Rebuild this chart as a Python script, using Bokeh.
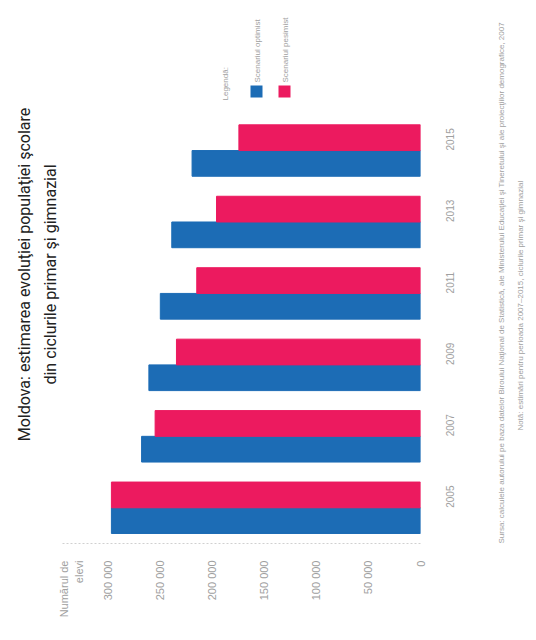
from math import pi
import numpy as np
from bokeh.plotting import figure
from bokeh.models import Range1d, FixedTicker, Title, Label, BoxAnnotation, LinearAxis
from bokeh.embed import file_html
from bokeh.resources import INLINE

# ---- data ----
years = ["2005", "2007", "2009", "2011", "2013", "2015"]
scenario_high = [297000, 268000, 261000, 250000, 239000, 219500]
scenario_low = [297000, 255000, 234500, 215000, 196000, 174500]
series_names = ["Scenariul optimist", "Scenariul pesimist"]
value_ticks = [0, 50000, 100000, 150000, 200000, 250000, 300000]
value_tick_labels = ["0", "50 000", "100 000", "150 000", "200 000", "250 000", "300 000"]
value_axis_title = "Numărul de\nelevi"
source_lines = [
    "Sursa: calculele autorului pe baza datelor Biroului Naţional de Statistică, ale Ministerului Educaţiei şi Tineretului şi ale proiecţiilor demografice, 2007",
    "Notă: estimări pentru perioada 2007–2015, ciclurile primar şi gimnazial",
]

BLUE = "#1c6cb5"
PINK = "#ec1a5f"
FAINT = "#a0a0a0"
TFONT = "Roboto"
SFONT = "Liberation Sans"

pos = np.arange(len(years))
x_max = 344000
y_lo, y_hi = -0.5, 7.03

p = figure(width=532, height=624,
           x_range=Range1d(x_max, 0), y_range=Range1d(y_lo, y_hi),
           output_backend="svg", toolbar_location=None,
           y_axis_location="right",
           min_border_left=62, min_border_right=103,
           min_border_top=5, min_border_bottom=81)
p.outline_line_color = None
p.grid.visible = False
p.background_fill_color = "white"
p.border_fill_color = "white"

p.hbar(y=pos - 0.18, left=0, right=scenario_high, height=0.36,
       fill_color=BLUE, line_color=BLUE)
p.hbar(y=pos + 0.18, left=0, right=scenario_low, height=0.36,
       fill_color=PINK, line_color=PINK)

# value axis (bottom); the axis title sits as an extra label at the far end
title_at = x_max * 0.975
xa = p.xaxis[0]
xa.ticker = FixedTicker(ticks=value_ticks + [title_at])
overrides = {t: l for t, l in zip(value_ticks, value_tick_labels)}
overrides[title_at] = value_axis_title
xa.major_label_overrides = overrides
xa.major_label_orientation = pi / 2
xa.major_label_text_font = SFONT
xa.major_label_text_font_size = "11px"
xa.major_label_text_color = FAINT
xa.major_tick_line_color = None
xa.major_tick_out = 0
xa.minor_tick_line_color = None
xa.major_label_standoff = 17
xa.axis_line_color = "#d0d0d0"
xa.axis_line_dash = "2 2"

# category axis (right)
ya = p.yaxis[0]
ya.ticker = FixedTicker(ticks=list(pos))
ya.major_label_overrides = {int(i): y for i, y in zip(pos, years)}
ya.major_label_orientation = pi / 2
ya.major_label_text_font = SFONT
ya.major_label_text_font_size = "10px"
ya.major_label_text_color = FAINT
ya.major_tick_line_color = None
ya.major_tick_out = 0
ya.minor_tick_line_color = None
ya.axis_line_color = None
ya.major_label_standoff = 30

# source notes: one-label axes on the right; each label starts at its anchor and runs upwards
note_starts = [y_lo, round(y_lo + (y_hi - y_lo) * 0.21, 2)]
for text, start, standoff in zip(source_lines, note_starts, [40, 7]):
    ax = LinearAxis(ticker=FixedTicker(ticks=[start]),
                    major_label_overrides={start: text},
                    major_label_orientation=pi / 2,
                    major_label_standoff=standoff,
                    major_label_text_font=SFONT, major_label_text_font_size="8px",
                    major_label_text_color=FAINT,
                    axis_line_color=None, major_tick_line_color=None,
                    minor_tick_line_color=None, major_tick_out=0)
    p.add_layout(ax, "right")

# title (two lines, rotated on the left)
p.add_layout(Title(text="din ciclurile primar şi gimnazial", align="center",
                   text_font=TFONT, text_font_size="16px",
                   text_font_style="normal", text_color="#222222", standoff=5), "left")
p.add_layout(Title(text="Moldova: estimarea evoluţiei populaţiei şcolare", align="center",
                   text_font=TFONT, text_font_size="16px",
                   text_font_style="normal", text_color="#222222", standoff=6), "left")

# screen coords: x from frame left (image x - 62), y up from frame bottom (543 - image y)
def sx(X):
    return X - 62

def sy(Y):
    return 543 - Y

# legend
p.add_layout(Label(x=sx(225), y=sy(100), x_units="screen", y_units="screen",
                   text="Legendă:", angle=pi / 2, text_align="left", text_baseline="middle",
                   text_font=SFONT, text_font_size="8px", text_color=FAINT))
for cx, col, name in [(256, BLUE, series_names[0]), (284, PINK, series_names[1])]:
    p.add_layout(BoxAnnotation(left=sx(cx - 6), right=sx(cx + 6), bottom=sy(97), top=sy(85),
                               left_units="screen", right_units="screen",
                               top_units="screen", bottom_units="screen",
                               fill_color=col, fill_alpha=1, line_color=None))
    p.add_layout(Label(x=sx(cx + 1), y=sy(82), x_units="screen", y_units="screen",
                       text=name, angle=pi / 2, text_align="left", text_baseline="middle",
                       text_font=SFONT, text_font_size="8px", text_color=FAINT))

open("out.html", "w").write(file_html(p, INLINE))
